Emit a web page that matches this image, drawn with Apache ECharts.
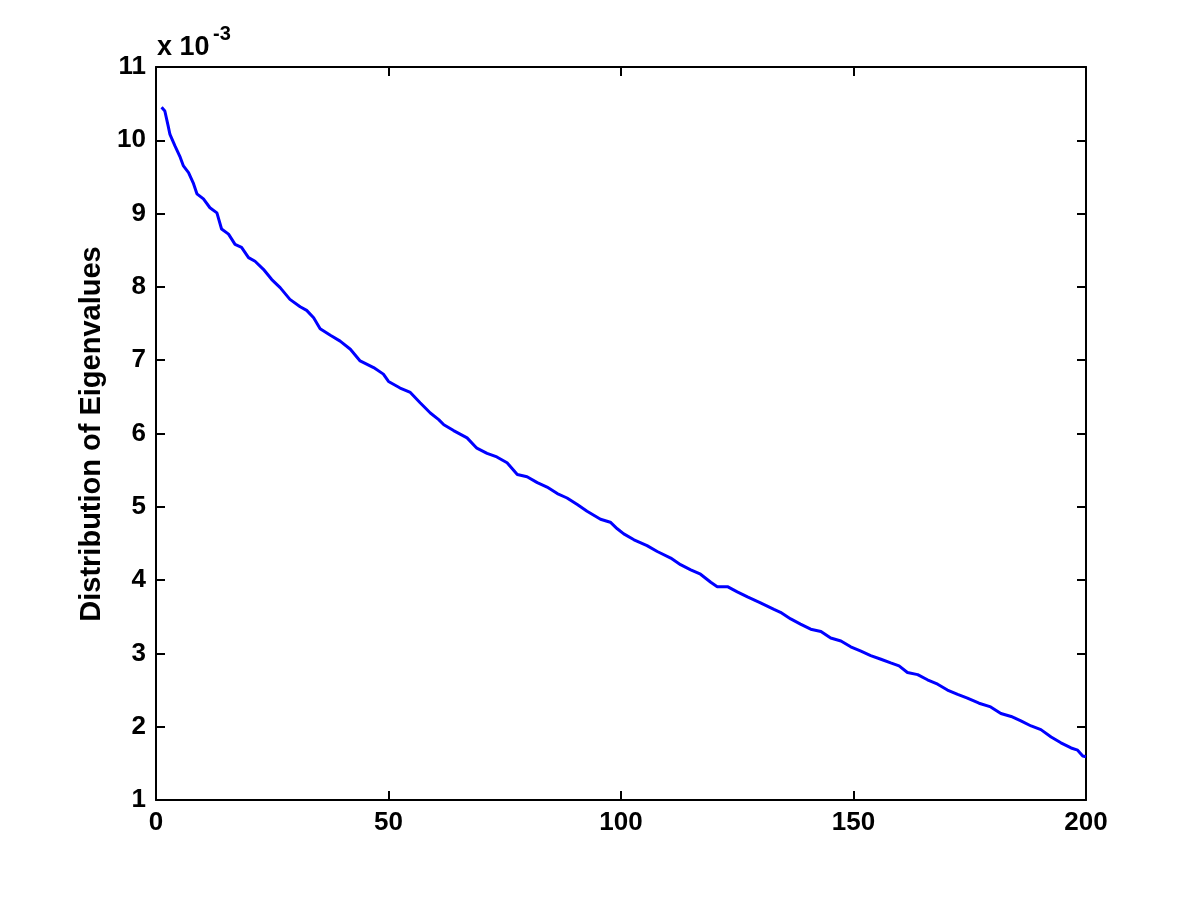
<!DOCTYPE html>
<html>
<head>
<meta charset="utf-8">
<script src="https://cdn.jsdelivr.net/npm/echarts@6/dist/echarts.min.js"></script>
<style>
  html, body { margin: 0; padding: 0; background: #fff; }
  #main { width: 1200px; height: 900px; }
</style>
</head>
<body>
<div id="main"></div>
<script>
// index of eigenvalue
var idx = [1.2, 1.9, 2.6, 3.0, 4.1, 5.2, 5.9, 7.0, 8.0, 8.8, 10.2, 11.6, 13.1, 14.1, 15.6, 17.0, 18.4, 19.9, 21.3, 23.1,
  24.9, 26.7, 28.8, 31.0, 32.4, 33.9, 35.3, 37.5, 39.6, 41.8, 43.9, 46.8, 48.9, 50.0, 52.5, 54.7, 56.8, 59.0, 60.8, 61.9,
  64.0, 66.9, 69.0, 71.2, 73.3, 75.5, 77.7, 79.8, 82.0, 84.1, 86.3, 88.4, 90.6, 92.7, 95.6, 97.7, 99.2, 100.6, 102.8, 105.6,
  107.8, 110.7, 112.8, 115.0, 117.1, 119.3, 120.7, 122.9, 125.0, 127.2, 130.0, 132.9, 134.3, 136.5, 138.6, 140.8, 143.0, 145.1, 147.3, 149.4,
  151.6, 153.7, 155.9, 158.0, 159.8, 161.6, 163.8, 165.9, 168.1, 170.2, 172.4, 174.5, 177.0, 179.5, 181.7, 183.9, 186.0, 188.2, 190.3, 192.5,
  194.6, 196.8, 198.2, 199.3, 200.0];
// eigenvalue (x 10^-3)
var eig = [10.45, 10.40, 10.20, 10.08, 9.92, 9.77, 9.65, 9.56, 9.42, 9.27, 9.20, 9.08, 9.01, 8.79, 8.72, 8.58, 8.54, 8.40, 8.35, 8.24,
  8.10, 7.99, 7.83, 7.73, 7.68, 7.58, 7.43, 7.34, 7.26, 7.15, 6.99, 6.90, 6.81, 6.71, 6.62, 6.56, 6.42, 6.28, 6.19, 6.12,
  6.04, 5.94, 5.80, 5.73, 5.68, 5.60, 5.44, 5.41, 5.33, 5.27, 5.18, 5.12, 5.03, 4.94, 4.83, 4.79, 4.70, 4.63, 4.55, 4.47,
  4.39, 4.30, 4.21, 4.14, 4.08, 3.97, 3.91, 3.91, 3.84, 3.77, 3.69, 3.60, 3.56, 3.47, 3.40, 3.33, 3.30, 3.21, 3.17, 3.09,
  3.03, 2.97, 2.92, 2.87, 2.83, 2.74, 2.71, 2.64, 2.58, 2.50, 2.44, 2.39, 2.32, 2.27, 2.18, 2.14, 2.08, 2.01, 1.96, 1.86,
  1.78, 1.71, 1.68, 1.60, 1.59];

var yName = 'Distribution of Eigenvalues';
var fnt = 'Liberation Sans, Arial, sans-serif';

var pts = [];
for (var i = 0; i < idx.length; i++) {
  pts.push([idx[i], eig[i]]);
}

// box axes: ticks inside on all four sides, labels only bottom/left
function xAx(pos, showLabel) {
  return {
    type: 'value', position: pos, min: 0, max: 200, interval: 50,
    axisLine: { show: true, onZero: false, lineStyle: { color: '#000', width: 2 } },
    axisTick: { show: true, inside: true, length: 9, lineStyle: { color: '#000', width: 2 } },
    axisLabel: { show: showLabel, color: '#000', fontSize: 26, fontWeight: 'bold', fontFamily: fnt, margin: 10 },
    splitLine: { show: false }
  };
}
function yAx(pos, showLabel) {
  return {
    type: 'value', position: pos, min: 1, max: 11, interval: 1,
    axisLine: { show: true, onZero: false, lineStyle: { color: '#000', width: 2 } },
    axisTick: { show: true, inside: true, length: 9, lineStyle: { color: '#000', width: 2 } },
    axisLabel: { show: showLabel, color: '#000', fontSize: 26, fontWeight: 'bold', fontFamily: fnt, margin: 10 },
    splitLine: { show: false }
  };
}

var chart = echarts.init(document.getElementById('main'));
chart.setOption({
  backgroundColor: '#fff',
  animation: false,
  grid: { left: 156, right: 114, top: 67, bottom: 100 },
  xAxis: [xAx('bottom', true), xAx('top', false)],
  yAxis: [yAx('left', true), yAx('right', false)],
  graphic: [
    { type: 'text', left: 157, top: 34, style: { text: 'x 10', fill: '#000', font: 'bold 27px ' + fnt } },
    { type: 'text', left: 213, top: 24, style: { text: '-3', fill: '#000', font: 'bold 20px ' + fnt } },
    { type: 'text', x: 77, y: 434, rotation: Math.PI / 2,
      style: { text: yName, fill: '#000', font: 'bold 29px ' + fnt, align: 'center', verticalAlign: 'top' } }
  ],
  series: [{
    type: 'line',
    xAxisIndex: 0, yAxisIndex: 0,
    data: pts,
    showSymbol: false,
    smooth: false,
    lineStyle: { color: '#0000ff', width: 3 }
  }]
});
</script>
</body>
</html>
